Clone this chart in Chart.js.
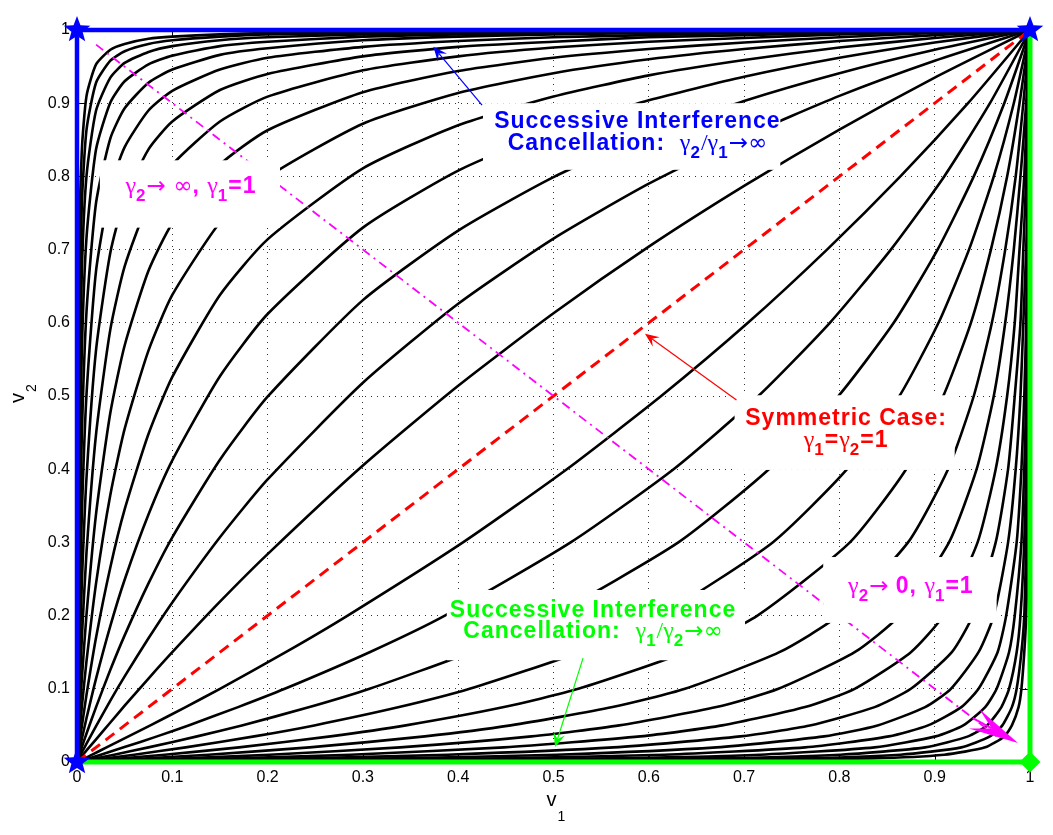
<!DOCTYPE html>
<html>
<head>
<meta charset="utf-8">
<script src="https://cdn.jsdelivr.net/npm/chart.js@4.4.1/dist/chart.umd.min.js"></script>
<style>
  html, body { margin: 0; padding: 0; background: #fff; }
  #wrap { width: 1053px; height: 835px; }
</style>
</head>
<body>
<div id="wrap"><canvas id="regionChart" width="1053" height="835"></canvas></div>
<script>
// ticks on both axes
const tickValues = [0, 0.1, 0.2, 0.3, 0.4, 0.5, 0.6, 0.7, 0.8, 0.9, 1];
const tickLabels = ["0", "0.1", "0.2", "0.3", "0.4", "0.5", "0.6", "0.7", "0.8", "0.9", "1"];

// sample positions along the curves
const sampleGrid = [0, 0.002, 0.005, 0.01, 0.02, 0.035, 0.05, 0.075, 0.1, 0.15, 0.2, 0.3, 0.4, 0.5, 0.6, 0.7, 0.8, 0.9, 1];

// curves above the diagonal: v2 read at v1 = sampleGrid (innermost first)
const upperCurves = [
    [0, .003, .008, .016, .031, .054, .077, .114, .150, .219, .284, .405, .514, .613, .704, .787, .864, .935, 1],
    [0, .005, .013, .025, .049, .084, .117, .169, .218, .307, .386, .518, .626, .715, .790, .854, .910, .958, 1],
    [0, .008, .020, .039, .075, .126, .173, .244, .307, .413, .499, .631, .726, .799, .857, .903, .941, .973, 1],
    [0, .013, .031, .060, .114, .186, .249, .338, .412, .527, .612, .730, .808, .863, .904, .936, .962, .983, 1],
    [0, .020, .048, .092, .170, .266, .345, .448, .526, .638, .714, .811, .870, .909, .938, .959, .976, .989, 1],
    [0, .031, .074, .138, .244, .365, .455, .562, .638, .737, .799, .872, .914, .941, .960, .974, .985, .993, 1],
    [0, .048, .112, .202, .339, .477, .569, .671, .736, .816, .863, .915, .944, .962, .974, .983, .990, .996, 1],
    [0, .074, .167, .287, .448, .591, .677, .764, .816, .875, .909, .945, .964, .976, .984, .989, .994, .997, 1],
    [0, .112, .241, .389, .563, .696, .769, .837, .875, .918, .940, .964, .977, .984, .990, .993, .996, .998, 1],
    [0, .167, .334, .503, .671, .784, .840, .890, .917, .946, .962, .977, .985, .990, .993, .996, .998, .999, 1],
    [0, .241, .443, .616, .764, .852, .893, .928, .946, .966, .975, .986, .991, .994, .996, .997, .998, .999, 1],
    [0, .335, .558, .717, .837, .901, .930, .953, .965, .978, .984, .991, .994, .996, .997, .998, .999, 1, 1],
    [0, .444, .667, .801, .890, .935, .955, .970, .978, .986, .990, .994, .996, .998, .998, .999, .999, 1, 1],
    [0, .558, .760, .864, .928, .958, .971, .981, .986, .991, .994, .996, .998, .998, .999, .999, 1, 1, 1],
    [0, .667, .834, .910, .953, .973, .981, .988, .991, .994, .996, .998, .999, .999, .999, 1, 1, 1, 1]
];

// curves below the diagonal: v1 read at v2 = sampleGrid (innermost first)
const lowerCurves = [
    [0, .003, .008, .016, .031, .054, .077, .114, .150, .219, .284, .405, .514, .613, .704, .787, .864, .935, 1],
    [0, .005, .013, .025, .049, .084, .117, .169, .218, .307, .386, .518, .626, .715, .790, .854, .910, .958, 1],
    [0, .008, .020, .039, .075, .126, .173, .244, .307, .413, .499, .631, .726, .799, .857, .903, .941, .973, 1],
    [0, .013, .031, .060, .114, .186, .249, .338, .412, .527, .612, .730, .808, .863, .904, .936, .962, .983, 1],
    [0, .020, .048, .092, .170, .266, .345, .448, .526, .638, .714, .811, .870, .909, .938, .959, .976, .989, 1],
    [0, .031, .074, .138, .244, .365, .455, .562, .638, .737, .799, .872, .914, .941, .960, .974, .985, .993, 1],
    [0, .048, .112, .202, .339, .477, .569, .671, .736, .816, .863, .915, .944, .962, .974, .983, .990, .996, 1],
    [0, .074, .167, .287, .448, .591, .677, .764, .816, .875, .909, .945, .964, .976, .984, .989, .994, .997, 1],
    [0, .112, .241, .389, .563, .696, .769, .837, .875, .918, .940, .964, .977, .984, .990, .993, .996, .998, 1],
    [0, .167, .334, .503, .671, .784, .840, .890, .917, .946, .962, .977, .985, .990, .993, .996, .998, .999, 1],
    [0, .241, .443, .616, .764, .852, .893, .928, .946, .966, .975, .986, .991, .994, .996, .997, .998, .999, 1],
    [0, .335, .558, .717, .837, .901, .930, .953, .965, .978, .984, .991, .994, .996, .997, .998, .999, 1, 1],
    [0, .444, .667, .801, .890, .935, .955, .970, .978, .986, .990, .994, .996, .998, .998, .999, .999, 1, 1],
    [0, .558, .760, .864, .928, .958, .971, .981, .986, .991, .994, .996, .998, .998, .999, .999, 1, 1, 1],
    [0, .667, .834, .910, .953, .973, .981, .988, .991, .994, .996, .998, .999, .999, .999, 1, 1, 1, 1]
];

// reference lines
const symmetricV1 = [0, 1];
const symmetricV2 = [0, 1];
const sicBlueV1 = [0, 0, 1];
const sicBlueV2 = [0, 1, 1];
const sicGreenV1 = [0, 1, 1];
const sicGreenV2 = [0, 0, 1];
const antiDiagV1 = [0.02, 0.965];
const antiDiagV2 = [0.98, 0.035];

// annotation texts ("_" = next char is a subscript)
const noteBlue = ["Successive Interference", "Cancellation:  γ_2/γ_1→∞"];
const noteRed = ["Symmetric Case:", "γ_1=γ_2=1"];
const noteGreen = ["Successive Interference", "Cancellation:  γ_1/γ_2→∞"];
const noteGammaInf = ["γ_2→ ∞, γ_1=1"];
const noteGammaZero = ["γ_2→ 0, γ_1=1"];

const FONT_SANS = '"Liberation Sans", Arial, Helvetica, sans-serif';
const FONT_GREEK = '"Liberation Serif", "DejaVu Serif", serif';
const FONT_ARROW = '"DejaVu Sans", sans-serif';

const canvas = document.querySelector("#regionChart");

function makeStar(r, color) {
    const c = document.createElement("canvas");
    const s = Math.ceil(r * 2 + 2);
    c.width = s;
    c.height = s;
    const g = c.getContext("2d");
    g.fillStyle = color;
    g.beginPath();
    for (let i = 0; i < 10; i++) {
        const rad = i % 2 === 0 ? r : r * 0.42;
        const a = -Math.PI / 2 + i * Math.PI / 5;
        g.lineTo(s / 2 + rad * Math.cos(a), s / 2 + rad * Math.sin(a));
    }
    g.closePath();
    g.fill();
    return c;
}

const blueStar = makeStar(14, "#0000ff");

function toPoints(xs, ys) {
    return xs.map((x, i) => ({ x, y: ys[i] }));
}

const datasets = [];

upperCurves.forEach((row) => {
    datasets.push({
        data: toPoints(sampleGrid, row),
        showLine: true,
        borderColor: "#000",
        borderWidth: 2.6,
        tension: 0.2,
        pointRadius: 0,
        order: 5
    });
});
lowerCurves.forEach((row) => {
    datasets.push({
        data: toPoints(row, sampleGrid),
        showLine: true,
        borderColor: "#000",
        borderWidth: 2.6,
        tension: 0.2,
        pointRadius: 0,
        order: 5
    });
});

datasets.push({
    data: toPoints(symmetricV1, symmetricV2),
    showLine: true,
    borderColor: "#ff0000",
    borderWidth: 3,
    borderDash: [11, 7],
    pointRadius: 0,
    order: 4
});
datasets.push({
    data: toPoints(antiDiagV1, antiDiagV2),
    showLine: true,
    borderColor: "#ff00ff",
    borderWidth: 1.8,
    borderDash: [9, 5, 2, 5],
    pointRadius: 0,
    order: 3
});
datasets.push({
    data: toPoints(sicGreenV1, sicGreenV2),
    showLine: true,
    borderColor: "#00ff00",
    borderWidth: 5,
    pointStyle: "rectRot",
    pointRadius: [0, 9, 0],
    pointBackgroundColor: "#00ff00",
    pointBorderColor: "#00ff00",
    pointBorderWidth: 2,
    clip: false,
    order: 2
});
datasets.push({
    data: toPoints(sicBlueV1, sicBlueV2),
    showLine: true,
    borderColor: "#0000ff",
    borderWidth: 4.5,
    pointStyle: blueStar,
    pointRadius: 14,
    clip: false,
    order: 1
});

// annotation layout (data coordinates)
const notes = [
    { lines: noteBlue, color: "#0000ff", at: [0.588, 0.866], gap: 22, box: [0.426, 0.900, 0.738, 0.809],
      arrow: [0.425, 0.8975, 0.374, 0.977] },
    { lines: noteRed, color: "#ff0000", at: [0.807, 0.460], gap: 22, box: [0.690, 0.501, 0.921, 0.399],
      arrow: [0.692, 0.4945, 0.596, 0.585] },
    { lines: noteGreen, color: "#00ff00", at: [0.5415, 0.198], gap: 21, box: [0.388, 0.235, 0.701, 0.139],
      arrow: [0.531, 0.142, 0.5016, 0.0205] },
    { lines: noteGammaInf, color: "#ff00ff", at: [0.1196, 0.777], gap: 0, box: [0.024, 0.822, 0.213, 0.730] },
    { lines: noteGammaZero, color: "#ff00ff", at: [0.875, 0.231], gap: 0, box: [0.783, 0.280, 0.965, 0.190] }
];

function richPieces(str, size) {
    const pieces = [];
    for (let i = 0; i < str.length; i++) {
        let ch = str[i];
        let sub = false;
        if (ch === "_") {
            sub = true;
            ch = str[++i];
        }
        let font;
        let spacing = "1px";
        if (sub) {
            font = `bold ${Math.round(size * 0.72)}px ${FONT_SANS}`;
        } else if (ch === "γ" || ch === "/") {
            font = `${size + 1}px ${FONT_GREEK}`;
            spacing = "0px";
        } else if (ch === "→" || ch === "∞") {
            font = `${size}px ${FONT_ARROW}`;
            spacing = "0px";
        } else {
            font = `bold ${size}px ${FONT_SANS}`;
        }
        const dy = sub ? Math.round(size * 0.34) : 0;
        const last = pieces[pieces.length - 1];
        if (last && last.font === font && last.dy === dy) last.text += ch;
        else pieces.push({ text: ch, font, dy, spacing });
    }
    return pieces;
}

function drawRich(ctx, str, cx, y, size, color) {
    const pieces = richPieces(str, size);
    let width = 0;
    pieces.forEach((p) => {
        ctx.font = p.font;
        ctx.letterSpacing = p.spacing;
        p.w = ctx.measureText(p.text).width;
        width += p.w;
    });
    let x = cx - width / 2;
    ctx.fillStyle = color;
    ctx.textBaseline = "alphabetic";
    ctx.textAlign = "left";
    pieces.forEach((p) => {
        ctx.font = p.font;
        ctx.letterSpacing = p.spacing;
        ctx.fillText(p.text, x, y + p.dy);
        x += p.w;
    });
    ctx.letterSpacing = "0px";
}

function drawArrow(ctx, x1, y1, x2, y2, color, lw, len, half) {
    const a = Math.atan2(y2 - y1, x2 - x1);
    const c = Math.cos(a);
    const s = Math.sin(a);
    ctx.strokeStyle = color;
    ctx.fillStyle = color;
    ctx.lineWidth = lw;
    ctx.setLineDash([]);
    ctx.beginPath();
    ctx.moveTo(x1, y1);
    ctx.lineTo(x2 - c * len * 0.6, y2 - s * len * 0.6);
    ctx.stroke();
    ctx.beginPath();
    ctx.moveTo(x2, y2);
    ctx.lineTo(x2 - len * c + half * s, y2 - len * s - half * c);
    ctx.lineTo(x2 - len * 0.6 * c, y2 - len * 0.6 * s);
    ctx.lineTo(x2 - len * c - half * s, y2 - len * s + half * c);
    ctx.closePath();
    ctx.fill();
}

const notesPlugin = {
    id: "regionNotes",
    beforeDatasetsDraw(chart) {
        // inward ticks on all four sides
        const { ctx, chartArea } = chart;
        const xs = chart.scales.x;
        const ys = chart.scales.y;
        ctx.save();
        ctx.strokeStyle = "#000";
        ctx.lineWidth = 1;
        tickValues.slice(1, -1).forEach((v) => {
            const px = Math.round(xs.getPixelForValue(v)) + 0.5;
            const py = Math.round(ys.getPixelForValue(v)) + 0.5;
            ctx.beginPath();
            ctx.moveTo(px, chartArea.bottom); ctx.lineTo(px, chartArea.bottom - 8);
            ctx.moveTo(px, chartArea.top); ctx.lineTo(px, chartArea.top + 8);
            ctx.moveTo(chartArea.left, py); ctx.lineTo(chartArea.left + 8, py);
            ctx.moveTo(chartArea.right, py); ctx.lineTo(chartArea.right - 8, py);
            ctx.stroke();
        });
        ctx.restore();
    },
    afterDatasetsDraw(chart) {
        const { ctx } = chart;
        const xs = chart.scales.x;
        const ys = chart.scales.y;
        ctx.save();
        notes.forEach((n) => {
            const bx1 = xs.getPixelForValue(n.box[0]);
            const by1 = ys.getPixelForValue(n.box[1]);
            const bx2 = xs.getPixelForValue(n.box[2]);
            const by2 = ys.getPixelForValue(n.box[3]);
            ctx.fillStyle = "#fff";
            ctx.fillRect(bx1, by1, bx2 - bx1, by2 - by1);
        });
        notes.forEach((n) => {
            if (n.arrow) {
                drawArrow(ctx,
                    xs.getPixelForValue(n.arrow[0]), ys.getPixelForValue(n.arrow[1]),
                    xs.getPixelForValue(n.arrow[2]), ys.getPixelForValue(n.arrow[3]),
                    n.color, 1.2, 14, 6);
            }
            const cx = xs.getPixelForValue(n.at[0]);
            const cy = ys.getPixelForValue(n.at[1]);
            n.lines.forEach((line, i) => drawRich(ctx, line, cx, cy + i * n.gap, 23, n.color));
        });
        // arrow head at the end of the dash-dot line
        drawArrow(ctx,
            xs.getPixelForValue(0.94), ys.getPixelForValue(0.06),
            xs.getPixelForValue(0.9874), ys.getPixelForValue(0.026),
            "#ff00ff", 2, 50, 11);
        ctx.restore();
    },
    afterDraw(chart) {
        const { ctx, chartArea } = chart;
        ctx.save();
        ctx.fillStyle = "#000";
        ctx.textBaseline = "alphabetic";
        ctx.textAlign = "left";
        // x title: v1
        const cx = (chartArea.left + chartArea.right) / 2;
        ctx.font = `20px ${FONT_SANS}`;
        ctx.fillText("v", cx - 7, 806);
        ctx.font = `14px ${FONT_SANS}`;
        ctx.fillText("1", cx + 4, 821);
        // y title: v2
        const cy = (chartArea.top + chartArea.bottom) / 2;
        ctx.translate(24, cy);
        ctx.rotate(-Math.PI / 2);
        ctx.font = `20px ${FONT_SANS}`;
        ctx.fillText("v", -7, 0);
        ctx.font = `14px ${FONT_SANS}`;
        ctx.fillText("2", 4, 12);
        ctx.restore();
    }
};

const tickFont = { family: FONT_SANS, size: 16 };

new Chart(canvas, {
    type: "scatter",
    data: { datasets },
    options: {
        responsive: false,
        animation: false,
        events: [],
        layout: { padding: { top: 30, right: 23, left: 0, bottom: 0 } },
        plugins: {
            legend: { display: false },
            tooltip: { enabled: false }
        },
        scales: {
            x: {
                type: "linear",
                min: 0,
                max: 1,
                afterBuildTicks: (scale) => { scale.ticks = tickValues.map((value) => ({ value })); },
                afterFit: (scale) => { scale.height = 73; },
                ticks: {
                    autoSkip: false,
                    maxRotation: 0,
                    color: "#000",
                    font: tickFont,
                    padding: 6,
                    callback: (value, index) => tickLabels[index]
                },
                grid: { color: "rgba(0,0,0,0.8)", lineWidth: 1, drawTicks: false },
                border: { display: false, dash: [1, 5] }
            },
            y: {
                type: "linear",
                min: 0,
                max: 1,
                afterBuildTicks: (scale) => { scale.ticks = tickValues.map((value) => ({ value })); },
                afterFit: (scale) => { scale.width = 77; },
                ticks: {
                    autoSkip: false,
                    color: "#000",
                    font: tickFont,
                    padding: 7,
                    callback: (value, index) => tickLabels[index]
                },
                grid: { color: "rgba(0,0,0,0.8)", lineWidth: 1, drawTicks: false },
                border: { display: false, dash: [1, 5] }
            }
        }
    },
    plugins: [notesPlugin]
});
</script>
</body>
</html>
